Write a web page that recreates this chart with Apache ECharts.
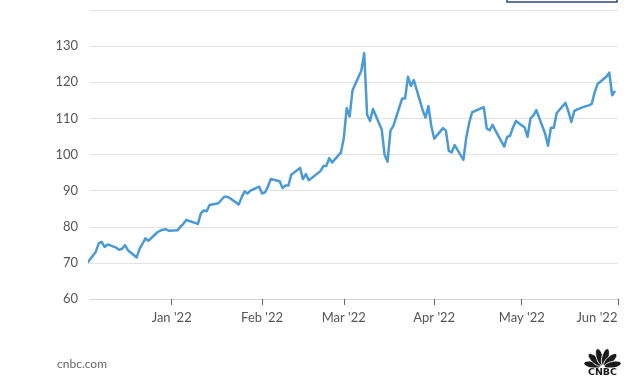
<!DOCTYPE html>
<html>
<head>
<meta charset="utf-8">
<script src="https://cdn.jsdelivr.net/npm/echarts@6/dist/echarts.min.js"></script>
<style>
html,body{margin:0;padding:0;background:#fff;}
#chart{width:640px;height:390px;}
</style>
</head>
<body>
<div id="chart"></div>
<script>
const dates = [
 '2021-12-03','2021-12-06','2021-12-07','2021-12-08','2021-12-09','2021-12-10',
 '2021-12-13','2021-12-14','2021-12-15','2021-12-16','2021-12-17',
 '2021-12-20','2021-12-21','2021-12-22','2021-12-23','2021-12-24',
 '2021-12-27','2021-12-28','2021-12-29','2021-12-30','2021-12-31',
 '2022-01-03','2022-01-04','2022-01-05','2022-01-06','2022-01-07',
 '2022-01-10','2022-01-11','2022-01-12','2022-01-13','2022-01-14',
 '2022-01-17','2022-01-18','2022-01-19','2022-01-20','2022-01-21',
 '2022-01-24','2022-01-25','2022-01-26','2022-01-27','2022-01-28',
 '2022-01-31','2022-02-01','2022-02-02','2022-02-03','2022-02-04',
 '2022-02-07','2022-02-08','2022-02-09','2022-02-10','2022-02-11',
 '2022-02-14','2022-02-15','2022-02-16','2022-02-17','2022-02-18',
 '2022-02-21','2022-02-22','2022-02-23','2022-02-24','2022-02-25',
 '2022-02-28','2022-03-01','2022-03-02','2022-03-03','2022-03-04',
 '2022-03-07','2022-03-08','2022-03-09','2022-03-10','2022-03-11',
 '2022-03-14','2022-03-15','2022-03-16','2022-03-17','2022-03-18',
 '2022-03-21','2022-03-22','2022-03-23','2022-03-24','2022-03-25',
 '2022-03-28','2022-03-29','2022-03-30','2022-03-31','2022-04-01',
 '2022-04-04','2022-04-05','2022-04-06','2022-04-07','2022-04-08',
 '2022-04-11','2022-04-12','2022-04-13','2022-04-14',
 '2022-04-18','2022-04-19','2022-04-20','2022-04-21','2022-04-22',
 '2022-04-25','2022-04-26','2022-04-27','2022-04-28','2022-04-29',
 '2022-05-02','2022-05-03','2022-05-04','2022-05-05','2022-05-06',
 '2022-05-09','2022-05-10','2022-05-11','2022-05-12','2022-05-13',
 '2022-05-16','2022-05-17','2022-05-18','2022-05-19','2022-05-20',
 '2022-05-23','2022-05-24','2022-05-25','2022-05-26','2022-05-27',
 '2022-05-30','2022-05-31','2022-06-01','2022-06-02'
];
const prices = [
 69.9,73.1,75.4,75.8,74.4,75.1,
 74.2,73.6,73.9,74.9,73.5,
 71.5,73.9,75.3,76.8,76.1,
 78.4,78.9,79.2,79.3,78.9,
 79.0,80.0,80.8,81.9,81.6,
 80.8,83.7,84.5,84.3,86.0,
 86.5,87.4,88.3,88.3,87.9,
 86.2,88.2,89.8,89.2,90.0,
 91.1,89.2,89.5,91.1,93.2,
 92.6,90.7,91.4,91.4,94.4,
 96.3,93.2,94.6,92.9,93.5,
 95.4,96.8,96.8,99.0,97.8,
 100.5,104.5,112.9,110.5,117.8,
 123.2,128.0,111.0,109.3,112.6,
 106.9,99.9,98.0,106.6,107.9,
 115.5,115.5,121.5,119.0,120.6,
 112.4,110.2,113.4,107.9,104.4,
 107.3,106.6,101.0,100.6,102.6,
 98.5,104.8,108.8,111.7,
 113.1,107.2,106.7,108.2,106.6,
 102.2,104.9,105.2,107.5,109.3,
 107.5,104.9,110.0,110.8,112.3,
 105.8,102.4,107.4,107.4,111.5,
 114.3,111.9,109.0,112.0,112.5,
 113.4,113.6,114.0,117.2,119.5,
 121.5,122.7,116.4,117.6
];
const yTicks = [60,70,80,90,100,110,120,130];
const monthNames = ['Jan','Feb','Mar','Apr','May','Jun','Jul','Aug','Sep','Oct','Nov','Dec'];

const seriesData = dates.map((d,i)=>[d, prices[i]]);
const chart = echarts.init(document.getElementById('chart'), null, {renderer:'canvas'});
const font = 'Lato, "Open Sans", sans-serif';
chart.setOption({
  animation:false,
  backgroundColor:'#fff',
  grid:{left:90,right:22,top:10,bottom:91,containLabel:false},
  xAxis:{
    type:'time',
    min:'2021-12-04',
    max:'2022-06-03',
    splitNumber:6,
    minInterval:28*86400000,
    axisLine:{show:true,lineStyle:{color:'#d4d4d4',width:1}},
    axisTick:{show:true,length:6,lineStyle:{color:'#666',width:1}},
    splitLine:{show:false},
    axisLabel:{
      color:'#555',fontSize:13,fontFamily:font,margin:12,
      showMinLabel:false,showMaxLabel:true,
      formatter:function(v){const d=new Date(v);const t=monthNames[d.getMonth()]+" '"+String(d.getFullYear()).slice(2);
        return d.getMonth()===5?'{j|'+t+'}':t;},
      rich:{j:{color:'#555',fontSize:13,fontFamily:font,padding:[0,42,0,0]}}
    }
  },
  yAxis:{
    type:'value',min:60,max:140,interval:10,
    axisLine:{show:false},axisTick:{show:false},
    splitLine:{lineStyle:{color:'#e3e3e3',width:1}},
    axisLabel:{color:'#555',fontSize:13,fontFamily:font,margin:12,
      formatter:function(v){return yTicks.indexOf(v)>=0?String(v):'';}}
  },
  series:[{
    type:'line',data:seriesData,showSymbol:false,symbol:'none',clip:true,
    lineStyle:{color:'#4a9ad6',width:2.5,join:'round'},
    z:5
  }],
  graphic:[
    {type:'rect',shape:{x:507,y:-10,width:110,height:12},style:{fill:'#fff',stroke:'#2c4a82',lineWidth:1.5}},
    {type:'text',left:57,top:358,style:{text:'cnbc.com',fill:'#666',font:'12px '+font}},
    {type:'group',children:(function(){
      const out=[];const cx=602.5,cy=367;
      const angs=[-78,-47,-16,16,47,78];
      angs.forEach(a=>{const r=a*Math.PI/180;
        out.push({type:'ellipse',x:cx+10.5*Math.sin(r),y:cy-10.5*Math.cos(r),rotation:-r,
          shape:{cx:0,cy:0,rx:3.4,ry:8.5},style:{fill:'#1a1a1a',stroke:'#fff',lineWidth:0.8}});});
      out.push({type:'rect',shape:{x:584,y:367.5,width:37,height:11},style:{fill:'#fff'}});
      out.push({type:'text',x:602.5,y:373,style:{text:'CNBC',fill:'#1a1a1a',font:'bold 9.5px "DejaVu Sans", sans-serif',textAlign:'center',textVerticalAlign:'middle'}});
      return out;})()}
  ]
});
</script>
</body>
</html>
